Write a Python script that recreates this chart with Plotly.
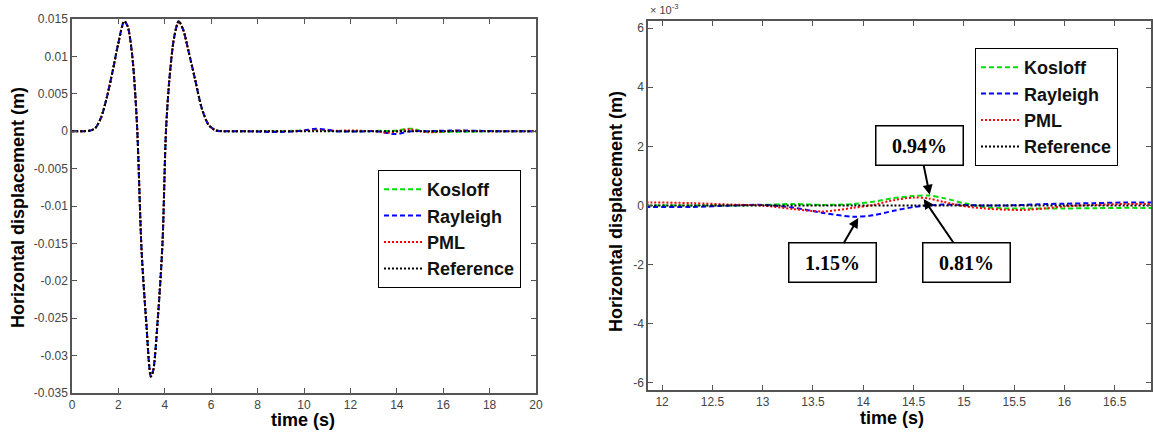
import plotly.graph_objects as go

W, H = 1153, 435

# ---------------- data ----------------
# main wavelet portion (identical for all four methods at this scale)
t_wave = [0.0, 0.5, 0.8, 1.0, 1.25, 1.5, 1.75, 2.0, 2.25, 2.4, 2.6, 2.8, 3.0, 3.2, 3.4,
          3.5, 3.7, 3.9, 4.05, 4.2, 4.4, 4.6, 4.8, 5.0, 5.3, 5.6, 5.9, 6.2]
u_wave = [0.0, 0.0, 0.0001, 0.0004, 0.0018, 0.0045, 0.0080, 0.0118, 0.0147, 0.0140, 0.0100,
          0.0010, -0.0160, -0.0255, -0.0328, -0.0320, -0.0250, -0.0150, 0.0000, 0.0070,
          0.0125, 0.0147, 0.0135, 0.0110, 0.0070, 0.0030, 0.0008, 0.0001]

# late-time tail (reflections from the absorbing boundaries)
t_tail = [6.5, 7.5, 8.5, 9.0, 9.5, 10.0, 10.4, 10.7, 11.0, 11.4, 11.9, 12.3, 12.7, 13.0,
          13.3, 13.6, 13.9, 14.1, 14.3, 14.5, 14.65, 14.8, 15.0, 15.2, 15.4, 15.6, 15.8,
          16.0, 16.3, 16.6, 16.9, 17.5, 18.5, 20.0]
kosloff_tail = [0.0, 0.0, 0.0, 0.0, 0.00005, 0.0001, 0.0002, 0.0002, 0.0001, 0.0, 0.0, 0.0,
                0.0, 0.00002, 0.00005, 0.00002, 0.00005, 0.00013, 0.00025, 0.00032, 0.00034,
                0.00025, 0.00008, -0.00005, -0.0001, -0.0001, -0.0001, -0.0001, -0.00009,
                -0.00008, -0.00008, -0.00005, 0.0, 0.0]
rayleigh_tail = [0.0, 0.0, -0.0001, -0.0001, -0.00005, 0.0001, 0.0003, 0.0003, 0.0002, 0.0,
                 -0.00005, -0.00005, 0.0, 0.00002, -0.00007, -0.00025, -0.00038, -0.00033,
                 -0.00018, -0.00005, 0.0, 0.00003, 0.00002, 0.0, 0.0, 0.00002, 0.00005,
                 0.00006, 0.00008, 0.0001, 0.0001, 0.00005, 0.0, 0.0]
pml_tail = [0.0, 0.0, 0.0, 0.0, 0.0, 0.00005, 0.0001, 0.0001, 0.00005, 0.00005, 0.0001,
            0.00008, 0.00003, 0.0, -0.00012, -0.0002, -0.00008, 0.00002, 0.00018, 0.00027,
            0.00024, 0.00012, -0.00002, -0.0001, -0.00014, -0.00015, -0.0001, -0.00003,
            0.00002, 0.00005, 0.00005, 0.00002, 0.0, 0.0]
reference_tail = [0.0] * len(t_tail)

series_names = ["Kosloff", "Rayleigh", "PML", "Reference"]
series_tails = [kosloff_tail, rayleigh_tail, pml_tail, reference_tail]
series_colors = ["#00e000", "#0000ff", "#ff0000", "#000000"]
series_dash = ["5px,3px", "5px,3px", "2px,2px", "2px,2px"]

left_yticks = [0.015, 0.01, 0.005, 0, -0.005, -0.01, -0.015, -0.02, -0.025, -0.03, -0.035]
left_yticktext = ["0.015", "0.01", "0.005", "0", "-0.005", "-0.01", "-0.015", "-0.02",
                  "-0.025", "-0.03", "-0.035"]
left_xticks = [0, 2, 4, 6, 8, 10, 12, 14, 16, 18, 20]
right_xticks = [12, 12.5, 13, 13.5, 14, 14.5, 15, 15.5, 16, 16.5]
right_yticks = [-0.006, -0.004, -0.002, 0, 0.002, 0.004, 0.006]
right_yticktext = ["-6", "-4", "-2", "0", "2", "4", "6"]

annot_texts = ["0.94%", "1.15%", "0.81%"]
annot_tips_t = [14.66, 13.95, 14.6]
annot_tips_u = [0.00036, -0.00042, 0.00022]

# ---------------- figure ----------------
fig = go.Figure()
font_family = "Liberation Sans, Arial, sans-serif"

for name, tail, col, dash in zip(series_names, series_tails, series_colors, series_dash):
    t_all = t_wave + t_tail
    u_all = u_wave + tail
    fig.add_trace(go.Scatter(x=t_all, y=u_all, mode="lines", name=name,
                             line=dict(color=col, width=2, dash=dash, shape="spline", smoothing=0.8),
                             xaxis="x", yaxis="y", legend="legend"))
    fig.add_trace(go.Scatter(x=t_all, y=u_all, mode="lines", name=name,
                             line=dict(color=col, width=2, dash=dash, shape="spline", smoothing=0.8),
                             xaxis="x2", yaxis="y2", legend="legend2"))

axis_common = dict(showgrid=False, zeroline=False, showline=True, linecolor="#555555",
                   linewidth=1.5, mirror="ticks", ticks="inside", ticklen=5,
                   tickcolor="#555555", tickwidth=1.2, automargin=False,
                   tickfont=dict(family=font_family, size=12, color="#444444"))

def px_x(p):
    return p / W

def px_y(p):
    return 1 - p / H

legend_font = dict(family=font_family, size=18, color="#111111", weight="bold")

fig.update_layout(
    width=W, height=H, margin=dict(l=0, r=0, t=0, b=0, autoexpand=False),
    paper_bgcolor="white", plot_bgcolor="white",
    xaxis=dict(domain=[px_x(72), px_x(536)], range=[0, 20], tickvals=left_xticks,
               anchor="y", **axis_common),
    yaxis=dict(domain=[px_y(393), px_y(19)], range=[-0.035, 0.015], tickvals=left_yticks,
               ticktext=left_yticktext, anchor="x", **axis_common),
    xaxis2=dict(domain=[px_x(648), px_x(1151)], range=[11.86, 16.86], tickvals=right_xticks,
                anchor="y2", **axis_common),
    yaxis2=dict(domain=[px_y(390), px_y(21)], range=[-0.00624, 0.00624], tickvals=right_yticks,
                ticktext=right_yticktext, anchor="x2", **axis_common),
    legend=dict(x=px_x(378), y=px_y(170), xanchor="left", yanchor="top",
                bgcolor="white", bordercolor="#000000", borderwidth=1,
                font=legend_font, itemwidth=38, tracegroupgap=0),
    legend2=dict(x=px_x(975), y=px_y(48), xanchor="left", yanchor="top",
                 bgcolor="white", bordercolor="#000000", borderwidth=1,
                 font=legend_font, itemwidth=38, tracegroupgap=0),
    showlegend=True,
)

title_font = dict(family=font_family, size=18, color="#000000", weight="bold")
anns = [
    dict(text="Horizontal displacement (m)", x=px_x(18), y=px_y(208), textangle=-90),
    dict(text="time (s)", x=px_x(303), y=px_y(420)),
    dict(text="Horizontal displacement (m)", x=px_x(616), y=px_y(212), textangle=-90),
    dict(text="time (s)", x=px_x(892), y=px_y(418)),
]
for a in anns:
    fig.add_annotation(xref="paper", yref="paper", showarrow=False, font=title_font,
                       xanchor="center", yanchor="middle", **a)

fig.add_annotation(xref="paper", yref="paper", x=px_x(648), y=px_y(9), showarrow=False,
                   text="× 10<sup>-3</sup>", xanchor="left", yanchor="middle",
                   font=dict(family=font_family, size=11, color="#444444"))

annot_offsets = [(-10, -49), (-26, 45), (43, 63)]
for txt, tt, uu, (ax, ay) in zip(annot_texts, annot_tips_t, annot_tips_u, annot_offsets):
    fig.add_annotation(xref="x2", yref="y2", x=tt, y=uu, text=txt, showarrow=True,
                       ax=ax, ay=ay, axref="pixel", ayref="pixel",
                       arrowhead=2, arrowsize=1, arrowwidth=2, arrowcolor="#000000",
                       bgcolor="white", bordercolor="#000000", borderwidth=1.5,
                       borderpad=2, width=82, height=34,
                       font=dict(family="Liberation Serif, Times New Roman, serif", size=20,
                                 color="#000000", weight="bold"))

fig.write_html("out.html", config={"displayModeBar": False},
               post_script="document.body.style.margin='0';document.body.style.padding='0';"
                           "document.body.style.overflow='hidden';")
